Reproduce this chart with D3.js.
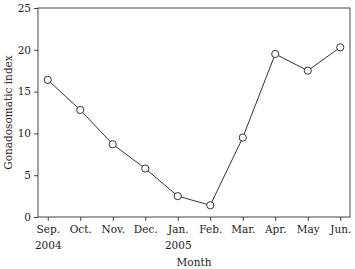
<!DOCTYPE html>
<html>
<head>
<meta charset="utf-8">
<script src="https://cdn.jsdelivr.net/npm/d3@7"></script>
<style>
body { margin: 0; background: #fff; }
text { font-family: "DejaVu Serif", serif; fill: #222; }
.axis text { font-size: 10.5px; }
.axis path, .axis line { stroke: #444; }
</style>
</head>
<body>
<div id="chart"></div>
<script>
var months = ['Sep.', 'Oct.', 'Nov.', 'Dec.', 'Jan.', 'Feb.', 'Mar.', 'Apr.', 'May', 'Jun.'];
var years = ['2004', '', '', '', '2005', '', '', '', '', ''];
var gsi = [16.4, 12.8, 8.7, 5.8, 2.5, 1.4, 9.5, 19.5, 17.5, 20.3];
var yTicks = [0, 5, 10, 15, 20, 25];

var margin = { top: 8, left: 38, bottom: 52, right: 5 },
    width = 355 - margin.left - margin.right,
    height = 269 - margin.top - margin.bottom;

var svg = d3.select('#chart').append('svg')
    .attr('width', 355)
    .attr('height', 269)
    .append('g')
    .attr('transform', 'translate(' + margin.left + ', ' + margin.top + ')');

var data = months.map((m, i) => ({ month: m, year: years[i], value: gsi[i] }));

var x = d3.scalePoint()
    .domain(months)
    .range([0, width])
    .padding(0.3);

var y = d3.scaleLinear()
    .domain([0, 25])
    .range([height, 0]);

// frame
svg.append('rect')
    .attr('width', width)
    .attr('height', height)
    .attr('fill', 'none')
    .attr('stroke', '#444');

var xAxis = d3.axisBottom(x).tickSize(4).tickSizeOuter(0);
var gx = svg.append('g')
    .attr('class', 'axis')
    .attr('transform', 'translate(0,' + height + ')')
    .call(xAxis);
gx.select('.domain').remove();
gx.selectAll('.tick text').attr('dy', '0.85em');
gx.selectAll('.tick')
    .append('text')
    .attr('y', 25)
    .attr('dy', '0.71em')
    .attr('fill', '#222')
    .text((d, i) => years[i]);

var yAxis = d3.axisLeft(y).tickValues(yTicks).tickSize(4).tickSizeOuter(0);
var gy = svg.append('g')
    .attr('class', 'axis')
    .call(yAxis);
gy.select('.domain').remove();

var line = d3.line()
    .x(d => x(d.month))
    .y(d => y(d.value));

svg.append('path')
    .datum(data)
    .attr('fill', 'none')
    .attr('stroke', '#333')
    .attr('stroke-width', 1)
    .attr('d', line);

svg.selectAll('.pt')
    .data(data)
    .enter()
    .append('circle')
    .attr('class', 'pt')
    .attr('cx', d => x(d.month))
    .attr('cy', d => y(d.value))
    .attr('r', 3.6)
    .attr('fill', '#fff')
    .attr('stroke', '#333');

svg.append('text')
    .attr('x', width / 2)
    .attr('y', height + 49)
    .attr('text-anchor', 'middle')
    .style('font-size', '10.5px')
    .text('Month');

svg.append('text')
    .attr('transform', 'rotate(-90)')
    .attr('x', -height / 2)
    .attr('y', -26)
    .attr('text-anchor', 'middle')
    .style('font-size', '10.5px')
    .text('Gonadosomatic index');
</script>
</body>
</html>
